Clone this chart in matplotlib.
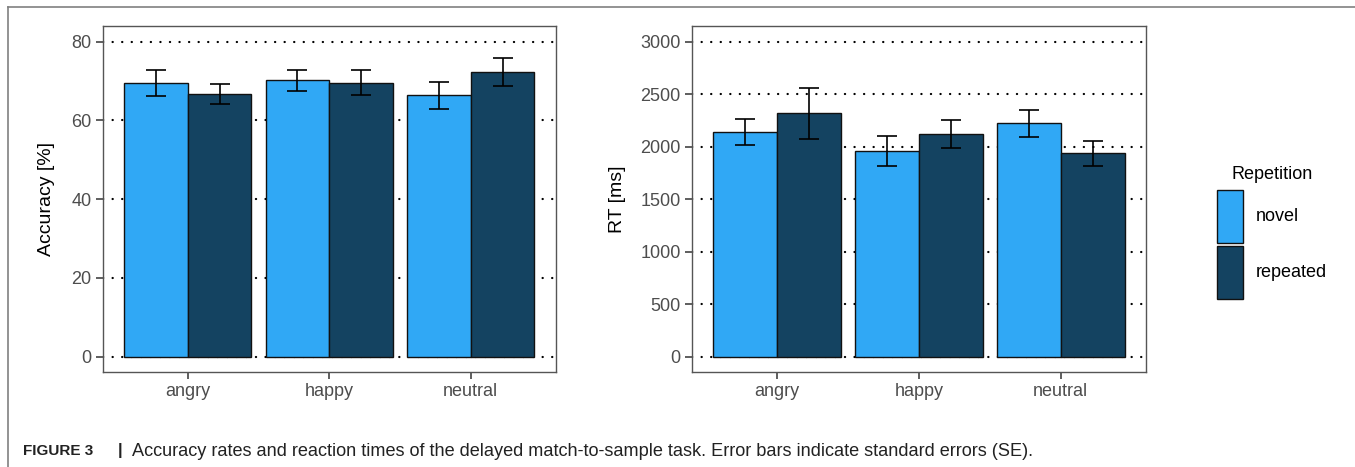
#!/usr/bin/env python3

import matplotlib
matplotlib.use('Agg')

import matplotlib.pyplot as plt
import numpy as np
from matplotlib.patches import Patch
from matplotlib.lines import Line2D

emotions = ["angry", "happy", "neutral"]
conditions = ["novel", "repeated"]

acc_novel = [69.5, 70.2, 66.4]
acc_novel_se = [3.2, 2.7, 3.4]
acc_repeated = [66.8, 69.6, 72.3]
acc_repeated_se = [2.5, 3.1, 3.5]

rt_novel = [2140, 1962, 2222]
rt_novel_se = [125, 143, 128]
rt_repeated = [2317, 2121, 1937]
rt_repeated_se = [245, 132, 118]

acc_ticks = [0, 20, 40, 60, 80]
rt_ticks = [0, 500, 1000, 1500, 2000, 2500, 3000]

color_map = {
    "novel": "#30A8F5",
    "repeated": "#144361",
}

plt.rcParams['font.family'] = ['Liberation Sans', 'DejaVu Sans']


def draw_panel(ax, novel, novel_se, repeated, repeated_se, ticks, ylabel, ylim, pad):
    xs = np.arange(len(emotions))
    width = 0.45
    series = [("novel", novel, novel_se, -width / 2),
              ("repeated", repeated, repeated_se, width / 2)]
    for name, vals, se, off in series:
        ax.bar(xs + off, vals, width=width, color=color_map[name],
               edgecolor="#111111", linewidth=1.0, zorder=2)
        ax.errorbar(xs + off, vals, yerr=se, fmt='none', ecolor="black",
                    elinewidth=1.2, capsize=7, capthick=1.2, zorder=3)

    ax.set_xlim(-0.6, len(emotions) - 0.4)
    ax.set_ylim(*ylim)
    ax.set_xticks(xs)
    ax.set_xticklabels(emotions)
    ax.set_yticks(ticks)
    ax.set_yticklabels([str(t) for t in ticks])
    ax.set_ylabel(ylabel, fontsize=14, color="black", labelpad=pad)

    ax.tick_params(axis='both', direction='out', length=5, width=1.1,
                   color="#333333", labelcolor="#4D4D4D", labelsize=13, pad=3)
    for sp in ax.spines.values():
        sp.set_color("#555555")
        sp.set_linewidth(1.0)

    ax.set_axisbelow(True)
    ax.yaxis.grid(True, color="black", linewidth=1.6,
                  linestyle=(0, (0.1, 4.2)), dash_capstyle='round')
    ax.xaxis.grid(False)


fig = plt.figure(figsize=(13.55, 4.67), dpi=100)
ax1 = fig.add_axes([0.0759, 0.2028, 0.3342, 0.7415])
ax2 = fig.add_axes([0.5105, 0.2028, 0.3351, 0.7415])

draw_panel(ax1, acc_novel, acc_novel_se, acc_repeated, acc_repeated_se,
           acc_ticks, "Accuracy [%]", (-4, 84), 12)
draw_panel(ax2, rt_novel, rt_novel_se, rt_repeated, rt_repeated_se,
           rt_ticks, "RT [ms]", (-150, 3150), 10)

handles = [Patch(facecolor=color_map[c], edgecolor="#111111", linewidth=1.0)
           for c in conditions]
leg = fig.legend(handles, conditions, title="Repetition",
                 loc="upper left", bbox_to_anchor=(0.893, 0.66),
                 frameon=False, fontsize=13, title_fontsize=13,
                 handlelength=1.45, handleheight=4.15, labelspacing=0.15,
                 handletextpad=0.7, borderaxespad=0)
leg._legend_box.align = "center"
leg._legend_box.sep = 5

# outer frame of the figure panel
fig.add_artist(Line2D([8 / 1355, 1.0], [1 - 7 / 467, 1 - 7 / 467],
                      transform=fig.transFigure, color="#808080", linewidth=1.2))
fig.add_artist(Line2D([8 / 1355, 8 / 1355], [0.0, 1 - 7 / 467],
                      transform=fig.transFigure, color="#808080", linewidth=1.2))

# caption
cap_y = 1 - 451 / 467
fig.text(23 / 1355, cap_y, "FIGURE 3", fontsize=11,
         fontweight='bold', va='center', ha='left', color="#222222")
fig.text(120 / 1355, cap_y, "|", fontsize=12, fontweight='bold',
         va='center', ha='center', color="#222222")
fig.text(132 / 1355, cap_y,
         "Accuracy rates and reaction times of the delayed match-to-sample task. "
         "Error bars indicate standard errors (SE).",
         fontsize=13.05, va='center', ha='left', color="#222222")

plt.savefig("out.png", dpi=100)
plt.close()
